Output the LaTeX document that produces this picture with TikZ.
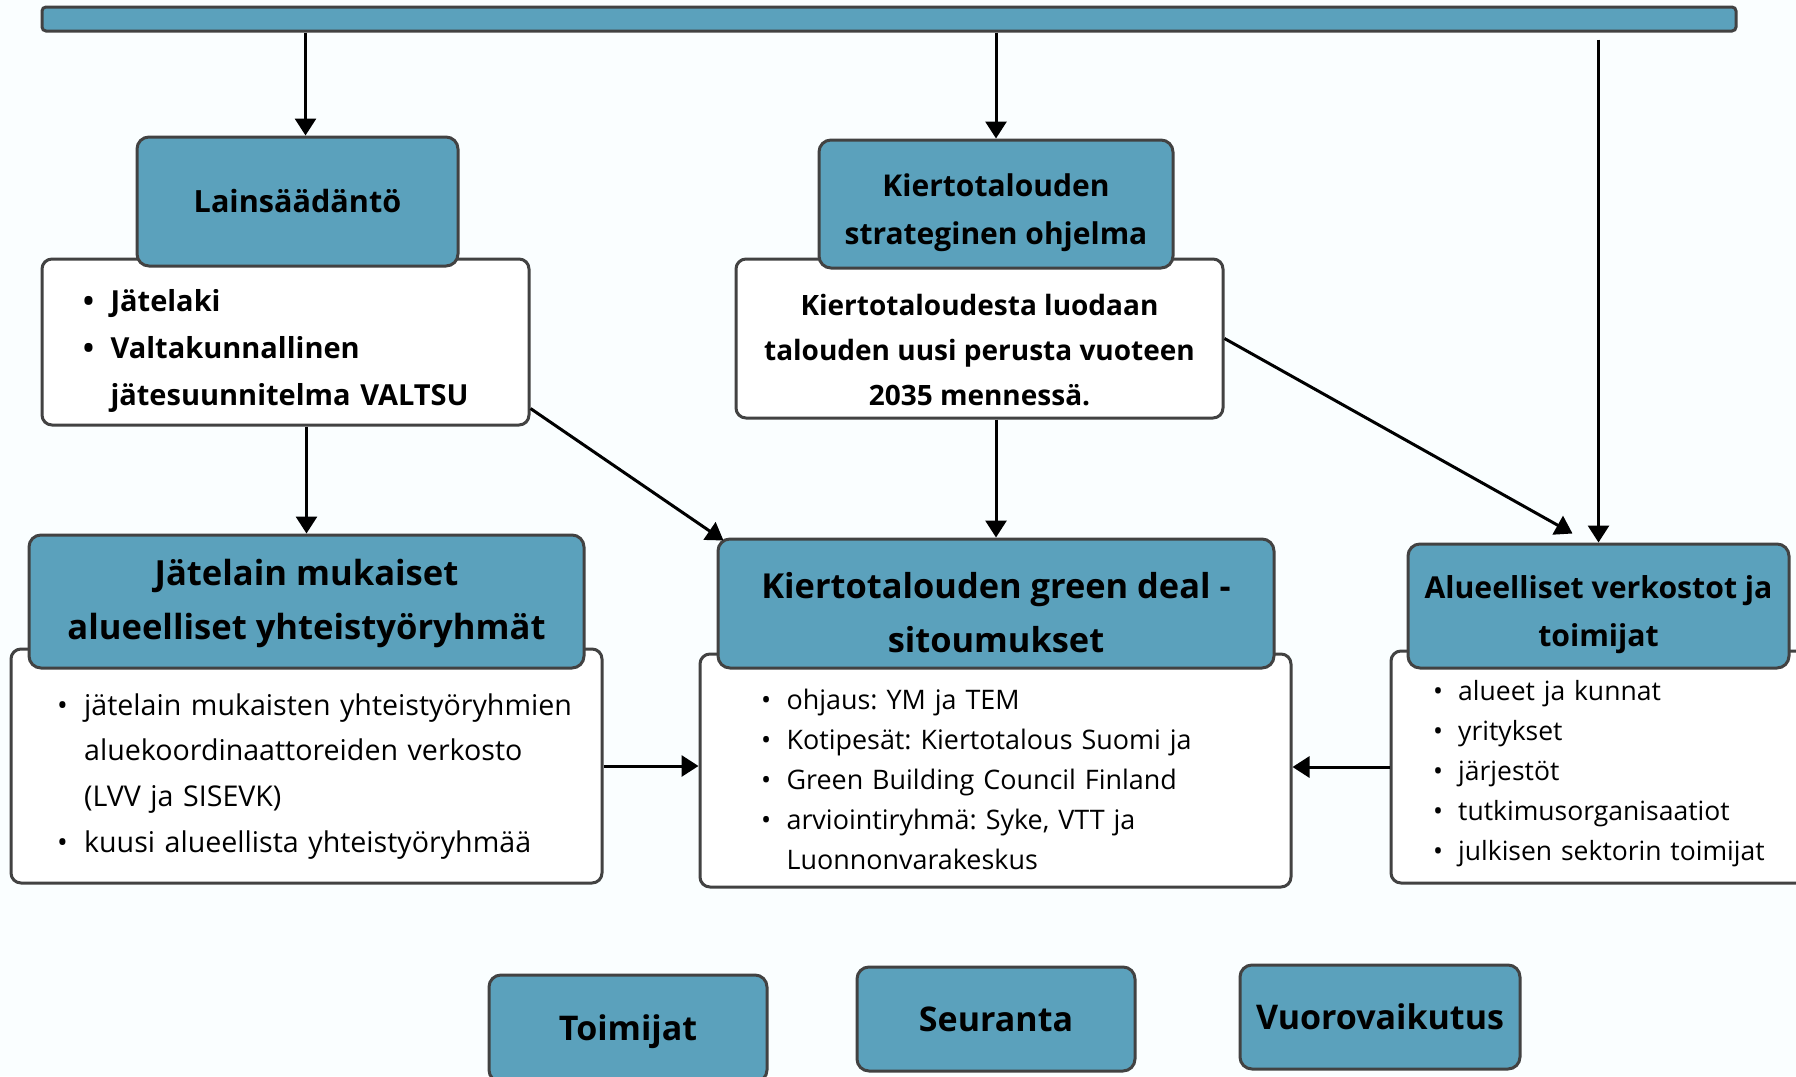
\documentclass[tikz,border=0pt]{standalone}
\usepackage{fontspec}
\setmainfont{Open Sans}
\usepackage{tikz}
\usetikzlibrary{arrows.meta}
\frenchspacing
\definecolor{boxblue}{RGB}{91,161,188}
\definecolor{edge}{RGB}{66,66,66}
\definecolor{paper}{RGB}{250,254,255}
\tikzstyle{head} = [rectangle, rounded corners=12pt, draw=edge, line width=3pt, fill=boxblue, align=center]
\tikzstyle{card} = [rectangle, rounded corners=10pt, draw=edge, line width=3pt, fill=white, inner sep=0pt]
\tikzstyle{arrow} = [-{Triangle[length=17pt,width=21pt]}, line width=3pt]
\newcommand{\bul}[1]{\mbox{\makebox[0.95em][l]{\textbullet}#1}}
\newcommand{\cnt}[1]{\mbox{\hspace*{0.95em}#1}}
\newcommand{\topgap}[1]{\rule{0pt}{#1em}}

\begin{document}
\begin{tikzpicture}[x=1pt,y=-1pt]
	\useasboundingbox (0,0) rectangle (1796,1076);
	\fill[paper] (0,0) rectangle (1796,1076);

	\node (bar) [head, rounded corners=4pt, minimum width=1694pt, minimum height=24pt] at (889,19) {};

	% white cards under the headers
	\node (lainc) [card, minimum width=487pt, minimum height=166pt, text width=405pt, align=left, font=\bfseries\fontsize{29}{47}\selectfont] at (285.5,342) {\topgap{1.39}\bul{Jätelaki}\\ \bul{Valtakunnallinen}\\ \cnt{jätesuunnitelma VALTSU}};
	\node (stratc) [card, minimum width=487pt, minimum height=159pt, align=center, font=\bfseries\fontsize{28}{45}\selectfont] at (979.5,338.5) {\topgap{1.58}Kiertotaloudesta luodaan\\ talouden uusi perusta vuoteen\\ 2035 mennessä.};
	\node (jatec) [card, minimum width=591pt, minimum height=234pt, text width=499pt, align=left, font=\fontsize{28.6}{45.6}\selectfont] at (306.5,766) {\topgap{1.48}\bul{jätelain mukaisten yhteistyöryhmien}\\ \cnt{aluekoordinaattoreiden verkosto}\\ \cnt{(LVV ja SISEVK)}\\ \bul{kuusi alueellista yhteistyöryhmää}};
	\node (dealc) [card, minimum width=591pt, minimum height=233pt, text width=469pt, align=left, font=\fontsize{26.9}{40}\selectfont] at (995.5,770.5) {\topgap{1.44}\bul{ohjaus: YM ja TEM}\\ \bul{Kotipesät: Kiertotalous Suomi ja}\\ \bul{Green Building Council Finland}\\ \bul{arviointiryhmä: Syke, VTT ja}\\ \cnt{Luonnonvarakeskus}};
	\node (aluec) [card, minimum width=419pt, minimum height=232pt, text width=335pt, align=left, font=\fontsize{26.5}{40}\selectfont] at (1600.5,767) {\topgap{1.28}\bul{alueet ja kunnat}\\ \bul{yritykset}\\ \bul{järjestöt}\\ \bul{tutkimusorganisaatiot}\\ \bul{julkisen sektorin toimijat}};

	% headers
	\node (lain) [head, minimum width=321pt, minimum height=129pt, font=\bfseries\fontsize{30.6}{48}\selectfont] at (297.5,201.5) {Lainsäädäntö};
	\node (strat) [head, minimum width=354pt, minimum height=128pt, font=\bfseries\fontsize{30}{48}\selectfont] at (996,204) {\topgap{1.36}Kiertotalouden\\ strateginen ohjelma};
	\node (jate) [head, minimum width=555pt, minimum height=133pt, font=\bfseries\fontsize{34.6}{54}\selectfont] at (306.5,601.5) {\topgap{0.9}Jätelain mukaiset\\ alueelliset yhteistyöryhmät};
	\node (deal) [head, minimum width=556pt, minimum height=129pt, font=\bfseries\fontsize{34.4}{54}\selectfont] at (996,603.5) {\topgap{1.28}Kiertotalouden green deal -\\ sitoumukset};
	\node (alue) [head, minimum width=381pt, minimum height=124pt, font=\bfseries\fontsize{30.2}{48}\selectfont] at (1598.5,606) {\topgap{1.36}Alueelliset verkostot ja\\ toimijat};

	\node (toim) [head, minimum width=278pt, minimum height=107pt, font=\bfseries\fontsize{34}{40}\selectfont] at (628,1028.5) {\topgap{0.95}Toimijat};
	\node (seur) [head, minimum width=278pt, minimum height=104pt, font=\bfseries\fontsize{34}{40}\selectfont] at (996,1019) {Seuranta};
	\node (vuor) [head, minimum width=280pt, minimum height=104pt, font=\bfseries\fontsize{34}{40}\selectfont] at (1380,1017) {Vuorovaikutus};

	\draw [arrow]([xshift=8pt]lain.north |- bar.south) -- ([xshift=8pt]lain.north);
	\draw [arrow](strat.north |- bar.south) -- (strat.north);
	\draw [arrow]([yshift=-7pt]alue.north |- bar.south) -- (alue.north);
	\draw [arrow](lainc.south -| jate.north) -- (jate.north);
	\draw [arrow]([yshift=18pt]lainc.south east) -- ([xshift=7pt,yshift=-3pt]deal.north west);
	\draw [arrow](stratc.south -| deal.north) -- (deal.north);
	\draw [arrow](stratc.east) -- ([xshift=-26pt,yshift=9pt]alue.north);
	\draw [arrow](jatec.east) -- (dealc.west |- jatec.east);
	\draw [arrow](aluec.west) -- (dealc.east |- aluec.west);
\end{tikzpicture}
\end{document}
